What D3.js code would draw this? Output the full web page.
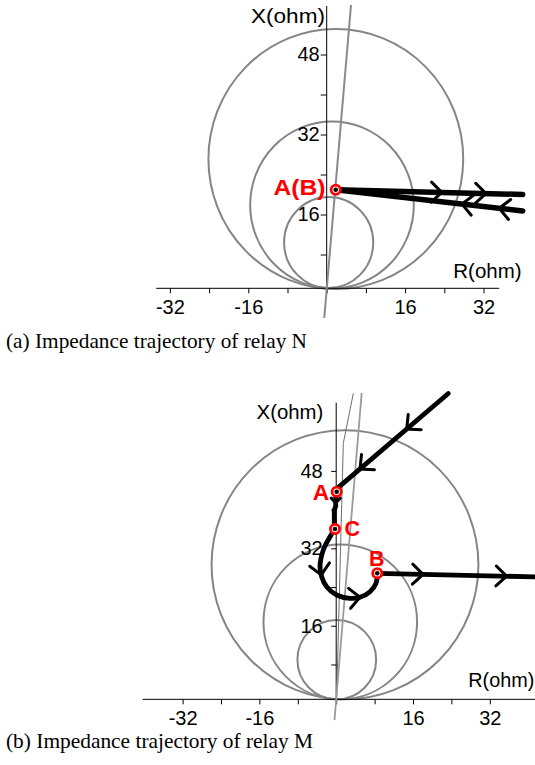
<!DOCTYPE html>
<html>
<head>
<meta charset="utf-8">
<script src="https://cdn.jsdelivr.net/npm/d3@7"></script>
<style>
  body { margin: 0; background: #fff; }
  svg { display: block; }
</style>
</head>
<body>
<svg id="chart" width="535" height="765"></svg>
<script>
// ---------- axis ticks (ohm) ----------
const rTicks = [-32, -24, -16, -8, 0, 8, 16, 24, 32];
const rTickLabels = [-32, -16, 16, 32];
const xTicks = [8, 16, 24, 32, 40, 48];
const xTickLabels = [16, 32, 48];

// ---------- relay N ----------
// mho circles: [R centre, X centre, radius]
const circlesN = [[1.86, 27.1, 26.0], [1.08, 17.9, 16.7], [0.4, 10.4, 9.1]];
const lineN = [[-0.5, -4.7], [4.96, 57.9]];
const trajN_out = [[1.84, 20.96], [40, 20.0]];
const trajN_back = [[40, 16.7], [1.84, 20.96]];
const arrowsN_out = [[23.5, 20.41], [32.5, 20.19]];
const arrowsN_back = [[27.6, 18.08], [35.2, 17.24]];
const pointsN = [{ name: "A(B)", r: 1.84, x: 20.96 }];

// ---------- relay M ----------
const circlesM = [[1.83, 28.6, 27.8], [0.85, 16.8, 16.0], [0.12, 9.0, 8.2]];
const lineM1 = [[3.56, 64.0], [1.48, 53.7], [0.1, 1.3]];
const lineM2 = [[5.31, 64.1], [0, 0.8], [-0.36, -3.5]];
const trajM_in = [[23.35, 64.0], [0.58, 44.7], [0.1, 43.7]];
const trajM_ac = [[0.1, 43.7], [-0.1, 42.5], [-0.1, 40.7], [-0.4, 39.9], [-0.4, 37.2], [-0.25, 36.0]];
const trajM_loop = [[-0.25, 36.0], [-1.29, 34.4], [-2.69, 31.65], [-3.375, 28.2], [-3.02, 26.1],
  [-1.98, 24.07], [0.1, 22.36], [2.875, 21.67], [4.96, 21.88], [7.04, 23.04], [8.29, 24.77], [8.56, 26.84]];
const trajM_out = [[8.56, 26.84], [41.5, 26.1]];
const arrowsM = [[14.69, 56.66, 1], [4.96, 48.4, 1], [-0.1, 41.4, 0.45], [-3.1, 26.5, 1], [4.96, 21.88, 1], [18.1, 26.62, 1], [35.5, 26.24, 1]];
const pointsM = [{ name: "A", r: 0.1, x: 43.7 }, { name: "C", r: -0.25, x: 36.0 }, { name: "B", r: 8.56, x: 26.84 }];

const captions = ["(a) Impedance trajectory of relay N", "(b) Impedance trajectory of relay M"];

const svg = d3.select("#chart");
svg.append("rect").attr("width", 535).attr("height", 765).attr("fill", "#fff");

const GRAY = "#858585";
const SANS = "'Liberation Sans', Arial, sans-serif";

function panel(cfg) {
  const g = svg.append("g");
  const x = d3.scaleLinear().domain([-32, 32]).range(cfg.xRange);
  const y = d3.scaleLinear().domain([0, 48]).range(cfg.yRange);
  const line = d3.line().x(d => x(d[0])).y(d => y(d[1]));

  // circles (scales may differ slightly per axis)
  g.selectAll("ellipse.mho").data(cfg.circles).join("ellipse")
    .attr("cx", d => x(d[0])).attr("cy", d => y(d[1]))
    .attr("rx", d => x(d[2]) - x(0)).attr("ry", d => y(0) - y(d[2]))
    .attr("fill", "none").attr("stroke", GRAY).attr("stroke-width", 2);

  // horizontal (R) axis
  const axisY = y(cfg.axisAt);
  const xAxis = d3.axisBottom(x).tickValues(rTicks).tickSize(5).tickSizeOuter(0)
    .tickPadding(cfg.xPad)
    .tickFormat(d => rTickLabels.includes(d) ? String(d) : "");
  const gx = g.append("g").attr("transform", `translate(0,${axisY})`).call(xAxis);
  gx.select(".domain").remove();
  gx.append("line").attr("x1", x(cfg.rExtent[0])).attr("x2", x(cfg.rExtent[1]))
    .attr("stroke", "#000").attr("stroke-width", 1);
  gx.selectAll(".tick text").attr("font-family", SANS).attr("font-size", 20).attr("fill", "#000");
  gx.selectAll(".tick line").attr("stroke", "#000");

  // vertical (X) axis
  const yAxis = d3.axisLeft(y).tickValues(xTicks).tickSize(cfg.yTick).tickSizeOuter(0)
    .tickPadding(cfg.yPad)
    .tickFormat(d => xTickLabels.includes(d) ? String(d) : "");
  const gy = g.append("g").attr("transform", `translate(${x(0)},0)`).call(yAxis);
  gy.select(".domain").remove();
  gy.append("line").attr("y1", y(cfg.axisAt)).attr("y2", y(cfg.xTop))
    .attr("stroke", "#000").attr("stroke-width", 1);
  gy.selectAll(".tick text").attr("font-family", SANS).attr("font-size", 20).attr("fill", "#000");
  gy.selectAll(".tick line").attr("stroke", "#000");

  // axis titles
  g.append("text").text("X(ohm)").attr("x", cfg.xTitle[0]).attr("y", cfg.xTitle[1])
    .attr("text-anchor", "end").attr("font-family", SANS).attr("font-size", 19.5)
    .attr("textLength", cfg.xTitle[2]).attr("lengthAdjust", "spacingAndGlyphs");
  g.append("text").text("R(ohm)").attr("x", cfg.rTitle[0]).attr("y", cfg.rTitle[1])
    .attr("font-family", SANS).attr("font-size", 19.5)
    .attr("textLength", cfg.rTitle[2]).attr("lengthAdjust", "spacingAndGlyphs");

  // characteristic lines
  cfg.lines.forEach(l => {
    g.append("path").attr("d", line(l.pts)).attr("fill", "none")
      .attr("stroke", l.color).attr("stroke-width", l.width);
  });

  // trajectories
  cfg.trajs.forEach(t => {
    g.append("path").attr("d", (t.smooth ? line.curve(d3.curveCatmullRom) : line.curve(d3.curveLinear))(t.pts))
      .attr("fill", "none").attr("stroke", "#000").attr("stroke-width", cfg.trajWidth)
      .attr("stroke-linecap", "round").attr("stroke-linejoin", "round");
    line.curve(d3.curveLinear);
  });

  // chevron arrowheads, oriented along the nearest trajectory segment
  cfg.arrows.forEach(a => {
    const pts = a.path.map(p => [x(p[0]), y(p[1])]);
    a.tips.forEach(tp => {
      const px = x(tp[0]), py = y(tp[1]);
      const s = tp.length > 2 ? tp[2] : 1;
      let best = null, bd = Infinity;
      for (let i = 0; i < pts.length - 1; i++) {
        const [x1, y1] = pts[i], [x2, y2] = pts[i + 1];
        const dx = x2 - x1, dy = y2 - y1, L2 = dx * dx + dy * dy;
        let t = L2 ? ((px - x1) * dx + (py - y1) * dy) / L2 : 0;
        t = Math.max(0, Math.min(1, t));
        const qx = x1 + t * dx, qy = y1 + t * dy;
        const d = (px - qx) ** 2 + (py - qy) ** 2;
        if (d < bd) { bd = d; best = [dx, dy]; }
      }
      const len = Math.hypot(best[0], best[1]);
      const ux = best[0] / len, uy = best[1] / len;
      const back = 10.5 * s, spread = 10 * s;
      const p1 = [px - back * ux - spread * uy, py - back * uy + spread * ux];
      const p2 = [px - back * ux + spread * uy, py - back * uy - spread * ux];
      g.append("path").attr("d", `M${p1}L${px},${py}L${p2}`)
        .attr("fill", "none").attr("stroke", "#000").attr("stroke-width", 3)
        .attr("stroke-linecap", "round").attr("stroke-linejoin", "miter");
    });
  });

  // marked points
  cfg.points.forEach((p, i) => {
    g.append("circle").attr("cx", x(p.r)).attr("cy", y(p.x)).attr("r", 4.6)
      .attr("fill", "#fff").attr("stroke", "#ff0000").attr("stroke-width", 2.8);
    g.append("circle").attr("cx", x(p.r)).attr("cy", y(p.x)).attr("r", 2.3).attr("fill", "#000");
    const lb = cfg.labels[i];
    g.append("text").text(p.name).attr("x", lb[0]).attr("y", lb[1])
      .attr("font-family", SANS).attr("font-weight", "bold").attr("font-size", 22)
      .attr("fill", "#ff0000").attr("textLength", lb[2]).attr("lengthAdjust", "spacingAndGlyphs");
  });

  // caption
  svg.append("text").text(cfg.caption).attr("x", 6).attr("y", cfg.captionY)
    .attr("font-family", "'Liberation Serif', 'Times New Roman', serif").attr("font-size", 21.5)
    .attr("textLength", cfg.captionW).attr("lengthAdjust", "spacingAndGlyphs");
}

panel({
  xRange: [326.7 - 156.8, 326.7 + 156.8], yRange: [294.5, 54.5],
  axisAt: 1.24, rExtent: [-34.8, 35.2], xTop: 57.7,
  xPad: 7, yTick: 6, yPad: 1,
  circles: circlesN,
  xTitle: [325, 22.7, 74], rTitle: [453.3, 277.5, 68.3],
  lines: [{ pts: lineN, color: "#8a8a8a", width: 2 }],
  trajWidth: 5.5,
  trajs: [{ pts: trajN_out }, { pts: trajN_back }],
  arrows: [{ path: trajN_out, tips: arrowsN_out }, { path: trajN_back, tips: arrowsN_back }],
  points: pointsN, labels: [[273.5, 195, 52]],
  caption: captions[0], captionY: 348.3, captionW: 301
});

panel({
  xRange: [336.2 - 153.6, 336.2 + 153.6], yRange: [703.2, 470.9],
  axisAt: 0.8, rExtent: [-40.3, 41.5], xTop: 62.1,
  xPad: 6, yTick: 5, yPad: 8.5,
  circles: circlesM,
  xTitle: [323.3, 419.3, 66.7], rTitle: [468.3, 686.7, 66],
  lines: [{ pts: lineM1, color: "#6e6e6e", width: 1 }, { pts: lineM2, color: "#9a9a9a", width: 1.8 }],
  trajWidth: 4.8,
  trajs: [{ pts: trajM_in }, { pts: trajM_ac }, { pts: trajM_loop, smooth: true }, { pts: trajM_out }],
  arrows: [{ path: trajM_in.concat(trajM_ac.slice(1), trajM_loop.slice(1), trajM_out.slice(1)), tips: arrowsM }],
  points: pointsM, labels: [[312.8, 499.8, 16.5], [344.5, 535.8, 15.5], [369, 565.5, 15.5]],
  caption: captions[1], captionY: 748.3, captionW: 307
});
</script>
</body>
</html>
